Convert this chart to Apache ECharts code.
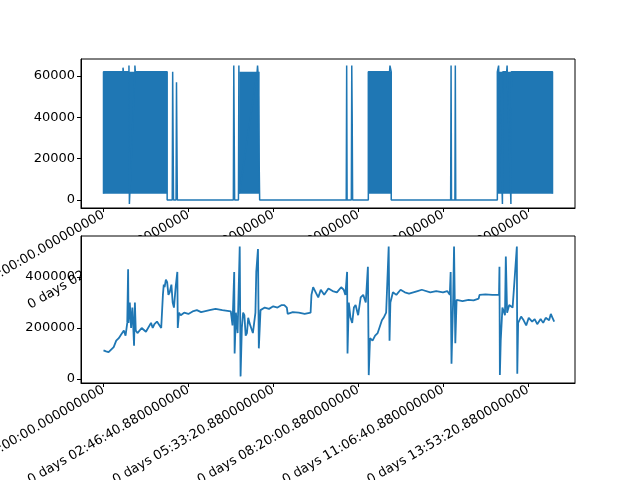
<!DOCTYPE html>
<html><head><meta charset="utf-8">
<script src="https://cdn.jsdelivr.net/npm/echarts@6/dist/echarts.min.js"></script>
<style>html,body{margin:0;padding:0;background:#fff}#c{width:640px;height:480px}</style>
</head><body><div id="c"></div>
<script>
const xTicks = [0, 10000, 20000, 30000, 40000, 50000];
const xTickLabels = ["0 days 00:00:00.000000000","0 days 02:46:40.880000000","0 days 05:33:20.880000000","0 days 08:20:00.880000000","0 days 11:06:40.880000000","0 days 13:53:20.880000000"];
const topYTicks = [0, 20000, 40000, 60000];
const botYTicks = [0, 200000, 400000];

// dense oscillation blocks (seconds) between low and high values
const blockStart = [0, 16000, 31200, 46400];
const blockEnd = [7500, 18400, 33900, 52900];
const blockLow = 3000;
const blockHigh = 62000;

// top series: outline, idle level and spikes
const topTimes = [0,0,2300,2300,2350,3000,3000,3050,3700,3700,3750,7500,7500,8100,8150,8250,8550,8600,8700,15300,15350,15450,15900,15950,16000,18100,18150,18200,18400,18400,28600,28650,28700,29200,29250,29300,29350,31200,31200,33700,33750,33900,33900,40900,40950,41000,41400,41450,41500,46400,46400,46500,46550,47000,47050,47500,47550,48000,48050,52900,52900];
const topValues = [3000,62000,62000,64000,62000,62000,65000,-2000,62000,65000,62000,62000,0,0,62000,0,0,57000,0,0,65000,0,0,65000,3000,62000,65000,62000,62000,0,0,65000,0,0,65000,40000,0,0,62000,62000,65000,62000,0,0,65000,0,0,65000,0,0,62000,62000,65000,-2000,62000,62000,65000,-2000,62000,62000,3000];

// bottom series
const botTimes = [0,300,600,900,1200,1500,1800,2100,2400,2600,2800,2900,2950,3100,3250,3400,3500,3600,3700,3800,4000,4200,4500,4700,5000,5200,5600,5800,6000,6300,6500,6800,7000,7100,7200,7350,7500,7650,7800,8000,8150,8300,8500,8700,8750,8900,9100,9500,10000,10500,11000,11500,12500,13200,14000,15000,15200,15400,15450,15600,15800,16050,16150,16300,16450,16600,16750,16900,17050,17200,17400,17600,17900,18000,18200,18300,18500,19000,19500,20000,20500,21000,21300,21600,21700,22300,23000,23700,24400,24500,24700,25000,25300,25600,26000,26500,27000,27500,28000,28300,28500,28700,28750,28900,29100,29300,29500,29700,30000,30300,30600,30900,31150,31250,31400,31700,32000,32300,32500,32800,33000,33300,33600,33700,33800,34100,34500,35000,35500,36000,37000,37500,38500,39200,40000,40500,40800,40900,41000,41200,41300,41450,41600,42300,43000,43600,44200,44300,45000,45800,46600,46650,46700,46800,47000,47300,47400,47550,47800,48200,48700,48750,48850,49200,49500,49800,50100,50500,50800,51100,51500,51800,52100,52500,52700,52900,53100];
const botValues = [112000,108000,105000,115000,125000,150000,160000,175000,190000,170000,220000,430000,220000,300000,200000,280000,210000,130000,300000,190000,180000,185000,200000,195000,185000,190000,220000,200000,215000,225000,220000,200000,330000,370000,360000,390000,380000,330000,340000,370000,300000,280000,360000,420000,200000,260000,250000,260000,255000,265000,270000,262000,270000,275000,270000,265000,210000,420000,100000,260000,180000,520000,10000,200000,260000,250000,170000,180000,240000,220000,200000,180000,260000,420000,510000,120000,270000,280000,275000,285000,280000,290000,290000,280000,255000,262000,260000,255000,260000,330000,360000,340000,320000,350000,330000,355000,345000,340000,360000,350000,330000,420000,100000,300000,240000,220000,280000,290000,250000,320000,330000,300000,440000,15000,160000,150000,170000,180000,200000,230000,240000,260000,520000,150000,300000,340000,330000,350000,340000,335000,345000,350000,340000,345000,340000,345000,330000,420000,60000,320000,520000,140000,310000,305000,310000,308000,315000,330000,332000,330000,330000,440000,15000,150000,280000,250000,480000,260000,290000,280000,520000,20000,220000,245000,230000,210000,240000,225000,235000,215000,235000,220000,240000,230000,255000,240000,225000];

const C = '#1f77b4';
const font = {fontFamily: 'DejaVu Sans', fontSize: 13, color: '#000'};
function xAxis(i) {
  return {type: 'value', gridIndex: i, min: -2650, max: 55550, z: i ? 3 : 0,
    splitLine: {show: false}, axisLine: {onZero: false, lineStyle: {color: '#000'}},
    axisTick: {customValues: xTicks, length: 4, lineStyle: {color: '#000'}},
    axisLabel: Object.assign({customValues: xTicks, rotate: 30, margin: 6,
      formatter: v => xTickLabels[xTicks.indexOf(v)] || ''}, font)};
}
function yAxis(i, min, max, ticks) {
  return {type: 'value', gridIndex: i, min: min, max: max, splitLine: {show: false}, z: i ? 3 : 0,
    axisLine: {show: true, onZero: false, lineStyle: {color: '#000'}},
    axisTick: {show: true, customValues: ticks, length: 4, lineStyle: {color: '#000'}},
    axisLabel: Object.assign({customValues: ticks, margin: 6, formatter: v => String(v)}, font)};
}
const chart = echarts.init(document.getElementById('c'));
chart.setOption({
  animation: false,
  grid: [
    {left: 81, right: 65, top: 59, height: 149, show: true, borderColor: '#000', borderWidth: 1, outerBoundsMode: 'none', containLabel: false},
    {left: 81, right: 65, top: 236, height: 147, show: true, borderColor: '#000', borderWidth: 1, backgroundColor: '#fff', z: 1, outerBoundsMode: 'none', containLabel: false}
  ],
  xAxis: [xAxis(0), xAxis(1)],
  yAxis: [yAxis(0, -3900, 68200, topYTicks), yAxis(1, -16000, 561000, botYTicks)],
  series: [
    {type: 'line', xAxisIndex: 0, yAxisIndex: 0, symbol: 'none', lineStyle: {color: C, width: 1.5},
     data: topTimes.map((t, i) => [t, topValues[i]]),
     markArea: {silent: true, itemStyle: {color: C, opacity: 1},
       data: blockStart.map((s, i) => [{coord: [s, blockLow]}, {coord: [blockEnd[i], blockHigh]}])}},
    {type: 'line', xAxisIndex: 1, yAxisIndex: 1, symbol: 'none', z: 2, lineStyle: {color: C, width: 1.8},
     data: botTimes.map((t, i) => [t, botValues[i]])}
  ]
});
</script></body></html>
